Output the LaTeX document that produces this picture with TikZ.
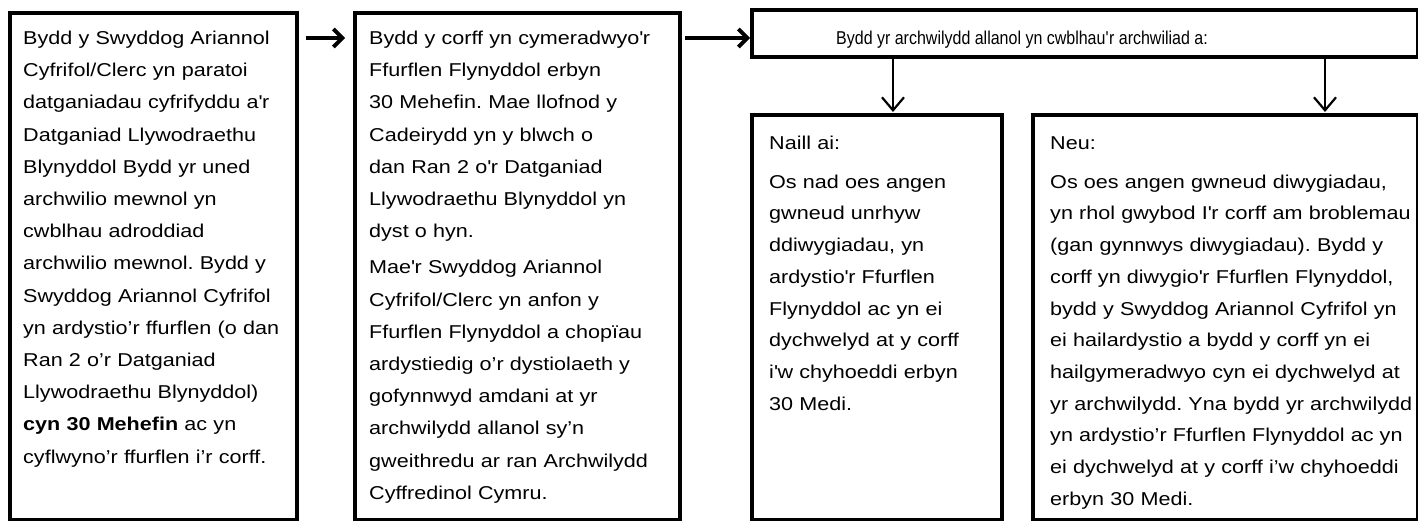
\documentclass[tikz,border=0pt]{standalone}
\usepackage{fontspec}
\setmainfont[FakeStretch=1.16]{Liberation Sans}
\newfontfamily\narrowfont[FakeStretch=0.86]{Liberation Sans}
\usetikzlibrary{arrows.meta}
\newcommand\apos{\textquotesingle}
\begin{document}
\frenchspacing
\begin{tikzpicture}[x=1pt,y=-1pt,
  box/.style={draw=black, line width=3.2pt, inner sep=0pt, outer sep=0pt, anchor=north west},
  txt/.style={anchor=base west, inner sep=0pt, align=left, font=\fontsize{18.6}{32.2}\selectfont},
  txtlow/.style={txt, font=\fontsize{18.6}{31.7}\selectfont},
  harrow/.style={line width=3.8pt, -{Straight Barb[length=9pt,width=18pt]}},
  varrow/.style={line width=2.2pt, -{Straight Barb[length=13pt,width=22pt]}}]
\useasboundingbox (0,0) rectangle (1418,520);

\node[box, minimum width=287pt, minimum height=507pt] (b1) at (10,13) {};
\node[box, minimum width=325pt, minimum height=507pt] (b2) at (355,13) {};
\node[box, minimum width=665.5pt, minimum height=47pt] (tb) at (752,10) {};
\node[box, minimum width=250pt, minimum height=405pt] (nb) at (752,115) {};
\node[box, minimum width=384.5pt, minimum height=405pt] (eb) at (1033,115) {};

\node[txt, text width=272pt] (t1) at (23,44.5) {Bydd y Swyddog Ariannol\\
Cyfrifol/Clerc yn paratoi\\
datganiadau cyfrifyddu a\apos r\\
Datganiad Llywodraethu\\
Blynyddol Bydd yr uned\\
archwilio mewnol yn\\
cwblhau adroddiad\\
archwilio mewnol. Bydd y\\
Swyddog Ariannol Cyfrifol\\
yn ardystio’r ffurflen (o dan\\
Ran 2 o’r Datganiad\\
Llywodraethu Blynyddol)\\
\textbf{cyn 30 Mehefin} ac yn\\
cyflwyno’r ffurflen i’r corff.};

\node[txt, text width=308pt] (t2) at (369,44.5) {Bydd y corff yn cymeradwyo\apos r\\
Ffurflen Flynyddol erbyn\\
30 Mehefin. Mae llofnod y\\
Cadeirydd yn y blwch o\\
dan Ran 2 o\apos r Datganiad\\
Llywodraethu Blynyddol yn\\
dyst o hyn.\\[4pt]
Mae\apos r Swyddog Ariannol\\
Cyfrifol/Clerc yn anfon y\\
Ffurflen Flynyddol a chopïau\\
ardystiedig o’r dystiolaeth y\\
gofynnwyd amdani at yr\\
archwilydd allanol sy’n\\
gweithredu ar ran Archwilydd\\
Cyffredinol Cymru.};

\node[anchor=base, inner sep=0pt, font=\narrowfont\fontsize{18.6}{20}\selectfont] (tt) at (1022,44) {Bydd yr archwilydd allanol yn cwblhau\apos r archwiliad a:};

\node[txtlow, text width=240pt] (t3) at (769,149.5) {Naill ai:\\[7pt]
Os nad oes angen\\
gwneud unrhyw\\
ddiwygiadau, yn\\
ardystio\apos r Ffurflen\\
Flynyddol ac yn ei\\
dychwelyd at y corff\\
i\apos w chyhoeddi erbyn\\
30 Medi.};

\node[txtlow, text width=400pt] (t4) at (1050,149.5) {Neu:\\[7pt]
Os oes angen gwneud diwygiadau,\\
yn rhol gwybod I\apos r corff am broblemau\\
(gan gynnwys diwygiadau). Bydd y\\
corff yn diwygio\apos r Ffurflen Flynyddol,\\
bydd y Swyddog Ariannol Cyfrifol yn\\
ei hailardystio a bydd y corff yn ei\\
hailgymeradwyo cyn ei dychwelyd at\\
yr archwilydd. Yna bydd yr archwilydd\\
yn ardystio’r Ffurflen Flynyddol ac yn\\
ei dychwelyd at y corff i’w chyhoeddi\\
erbyn 30 Medi.};

\coordinate (h1) at ([yshift=-25pt]b1.north east);
\draw[harrow, shorten <=9pt, shorten >=10pt] (h1) -- (h1 -| b2.west);
\coordinate (h2) at ([yshift=-25pt]b2.north east);
\draw[harrow, shorten <=5pt, shorten >=2pt] (h2) -- (h2 -| tb.west);

\coordinate (v1) at (893,0);
\coordinate (v2) at (1325,0);
\draw[varrow, shorten >=3pt] (v1 |- tb.south) -- (v1 |- nb.north);
\draw[varrow, shorten >=3pt] (v2 |- tb.south) -- (v2 |- eb.north);
\end{tikzpicture}
\end{document}
